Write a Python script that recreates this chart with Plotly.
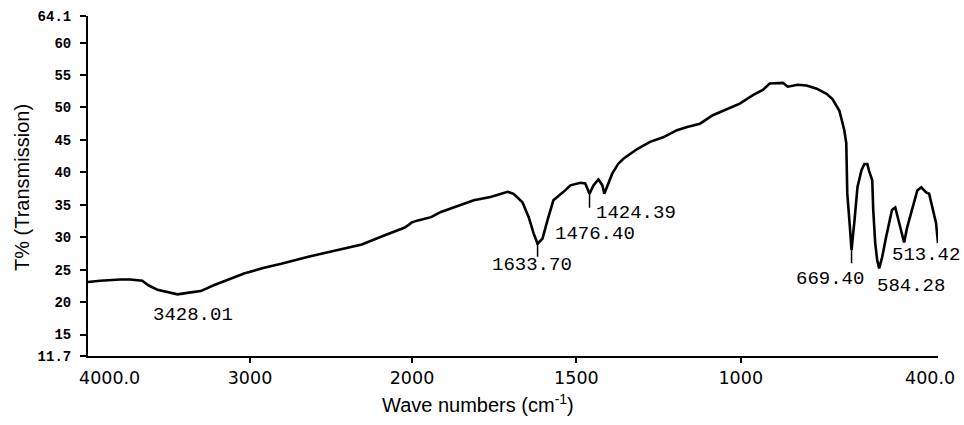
import plotly.graph_objects as go

# ---------------- data ----------------
wavenumber = [4000, 3925, 3801, 3739, 3665, 3627, 3571, 3491, 3447, 3366, 3304, 3224,
              3137, 3037, 2913, 2807, 2640, 2497, 2310, 2168, 2044,
              1982, 1942, 1912, 1861, 1812, 1761, 1709, 1691, 1664, 1645, 1630, 1618,
              1603, 1588, 1570, 1539, 1518, 1488, 1473, 1460, 1448, 1433, 1421, 1415,
              1403, 1391, 1373, 1357, 1315, 1276, 1236, 1194, 1163, 1124, 1085, 1042,
              1003, 963, 933, 912, 872, 857, 842, 827, 800, 769, 739, 721, 700, 685,
              679, 676, 669, 663, 654, 645, 633, 624, 615, 609, 600, 597, 591, 585,
              579, 570, 558, 549, 540, 530, 524, 512, 503, 494, 479, 463, 451, 436,
              427, 418, 406, 400]
transmission = [23.1, 23.3, 23.5, 23.5, 23.3, 22.6, 21.9, 21.5, 21.2, 21.5, 21.7, 22.6,
                23.4, 24.4, 25.3, 25.9, 27.0, 27.8, 28.9, 30.3, 31.5,
                32.6, 33.1, 33.9, 34.8, 35.7, 36.2, 37.0, 36.7, 35.4, 33.1, 30.6, 29.0,
                29.8, 32.6, 35.7, 37.0, 38.0, 38.4, 38.3, 36.7, 38.0, 38.9, 38.0, 36.7,
                38.3, 39.8, 41.3, 42.1, 43.6, 44.7, 45.4, 46.5, 47.0, 47.5, 48.8, 49.8,
                50.6, 51.9, 52.7, 53.7, 53.8, 53.2, 53.4, 53.5, 53.4, 52.9, 52.1, 51.3, 49.5, 46.5,
                44.5, 36.8, 32.2, 28.0, 32.6, 37.7, 40.3, 41.3, 41.3, 40.1, 38.8, 34.2, 29.1, 26.5,
                25.2, 26.9, 30.0, 32.2, 34.2, 34.6, 33.4, 30.6, 29.2, 31.5, 34.2, 37.2, 37.7, 36.9,
                36.7, 34.6, 32.2, 29.1]

# peak labels and the dip (wn, T) each belongs to
peak_labels = ["3428.01", "1633.70", "1476.40", "1424.39", "669.40", "584.28", "513.42"]
peak_wn = [3447, 1618, 1460, 1415, 663, 579, 503]
peak_T = [21.2, 29.0, 36.7, 36.7, 28.0, 25.2, 29.2]

y_tickvals = [11.7, 15, 20, 25, 30, 35, 40, 45, 50, 55, 60, 64.1]
y_ticktext = ["11.7", "15", "20", "25", "30", "35", "40", "45", "50", "55", "60", "64.1"]
x1_ticks = [3000, 2000]
x2_ticks = [1500, 1000]

# ---------------- layout constants ----------------
W, H = 964, 425
ML, MR, MT, MB = 88, 26, 16, 69
PW = W - ML - MR
PH = H - MT - MB
split = (412 - ML) / PW

def py(pix):  # pixel row -> paper y
    return (MT + PH - pix) / PH

fig = go.Figure()
line = dict(color="black", width=2.6)
fig.add_trace(go.Scatter(x=wavenumber, y=transmission, mode="lines", line=line,
                         xaxis="x", yaxis="y", showlegend=False, hoverinfo="skip"))
fig.add_trace(go.Scatter(x=wavenumber, y=transmission, mode="lines", line=line,
                         xaxis="x2", yaxis="y", showlegend=False, hoverinfo="skip"))

tickfont_x = dict(family="DejaVu Sans", size=17.5, color="black")
axis_common = dict(showline=True, linecolor="black", linewidth=2, showgrid=False,
                   zeroline=False, ticks="outside", ticklen=5, tickwidth=1.5,
                   tickcolor="black", tickfont=tickfont_x, automargin=False)

fig.update_layout(
    template="none",
    width=W, height=H, autosize=False,
    margin=dict(l=ML, r=MR, t=MT, b=MB, pad=0),
    paper_bgcolor="white", plot_bgcolor="white",
    xaxis=dict(domain=[0, split], range=[4000, 2000], anchor="y",
               tickvals=x1_ticks, ticktext=[str(v) for v in x1_ticks], **axis_common),
    xaxis2=dict(domain=[split, 1], range=[2000, 400], anchor="y",
                tickvals=x2_ticks, ticktext=[str(v) for v in x2_ticks], **axis_common),
    yaxis=dict(range=[11.7, 64.1], anchor="x", showline=True, linecolor="black",
               linewidth=2, showgrid=False, zeroline=False, ticks="outside",
               ticklen=6, tickwidth=1.5, tickcolor="black", automargin=False,
               tickvals=y_tickvals, ticktext=y_ticktext, ticklabelstandoff=6,
               tickfont=dict(family="Liberation Mono", size=14, color="black", weight="bold")),
)

annotations = []
# axis end labels
annotations.append(dict(text="4000.0", xref="x", yref="paper", x=4000, y=py(378),
                        xanchor="left", yanchor="middle", xshift=-11, showarrow=False,
                        font=tickfont_x))
annotations.append(dict(text="400.0", xref="x2", yref="paper", x=400, y=py(378),
                        xanchor="right", yanchor="middle", xshift=19, showarrow=False,
                        font=tickfont_x))
# axis titles
annotations.append(dict(text="Wave numbers (cm<sup>-1</sup>)", xref="paper", yref="paper",
                        x=(478 - ML) / PW, y=py(403), xanchor="center", yanchor="middle",
                        showarrow=False, font=dict(family="Liberation Sans", size=20, color="black")))
annotations.append(dict(text="T% (Transmission)", xref="paper", yref="paper",
                        x=(22 - ML) / PW, y=py(188), xanchor="center", yanchor="middle",
                        textangle=-90, showarrow=False,
                        font=dict(family="Liberation Sans", size=20, color="black")))

# peak labels: offsets (px) from the dip to the label centre
label_dx = [15, -6, 5, 32, -22, 32, 22]
label_dy = [21, 21, 40, 19, 29, 18, 13]
marker_len = [0, 13, 14, 0, 13, 0, 0]
peak_font = dict(family="Liberation Mono", size=19, color="black")
shapes = []
for i, txt in enumerate(peak_labels):
    xr = "x" if peak_wn[i] > 2000 else "x2"
    annotations.append(dict(text=txt, xref=xr, yref="y", x=peak_wn[i], y=peak_T[i],
                            xshift=label_dx[i], yshift=-label_dy[i], xanchor="center",
                            yanchor="middle", showarrow=False, font=peak_font))
    if marker_len[i]:
        shapes.append(dict(type="line", xref=xr, yref="y", x0=peak_wn[i], x1=peak_wn[i],
                           ysizemode="pixel", yanchor=peak_T[i], y0=0, y1=-marker_len[i],
                           line=dict(color="black", width=1.5)))

fig.update_layout(annotations=annotations, shapes=shapes)
fig.write_html("out.html")
